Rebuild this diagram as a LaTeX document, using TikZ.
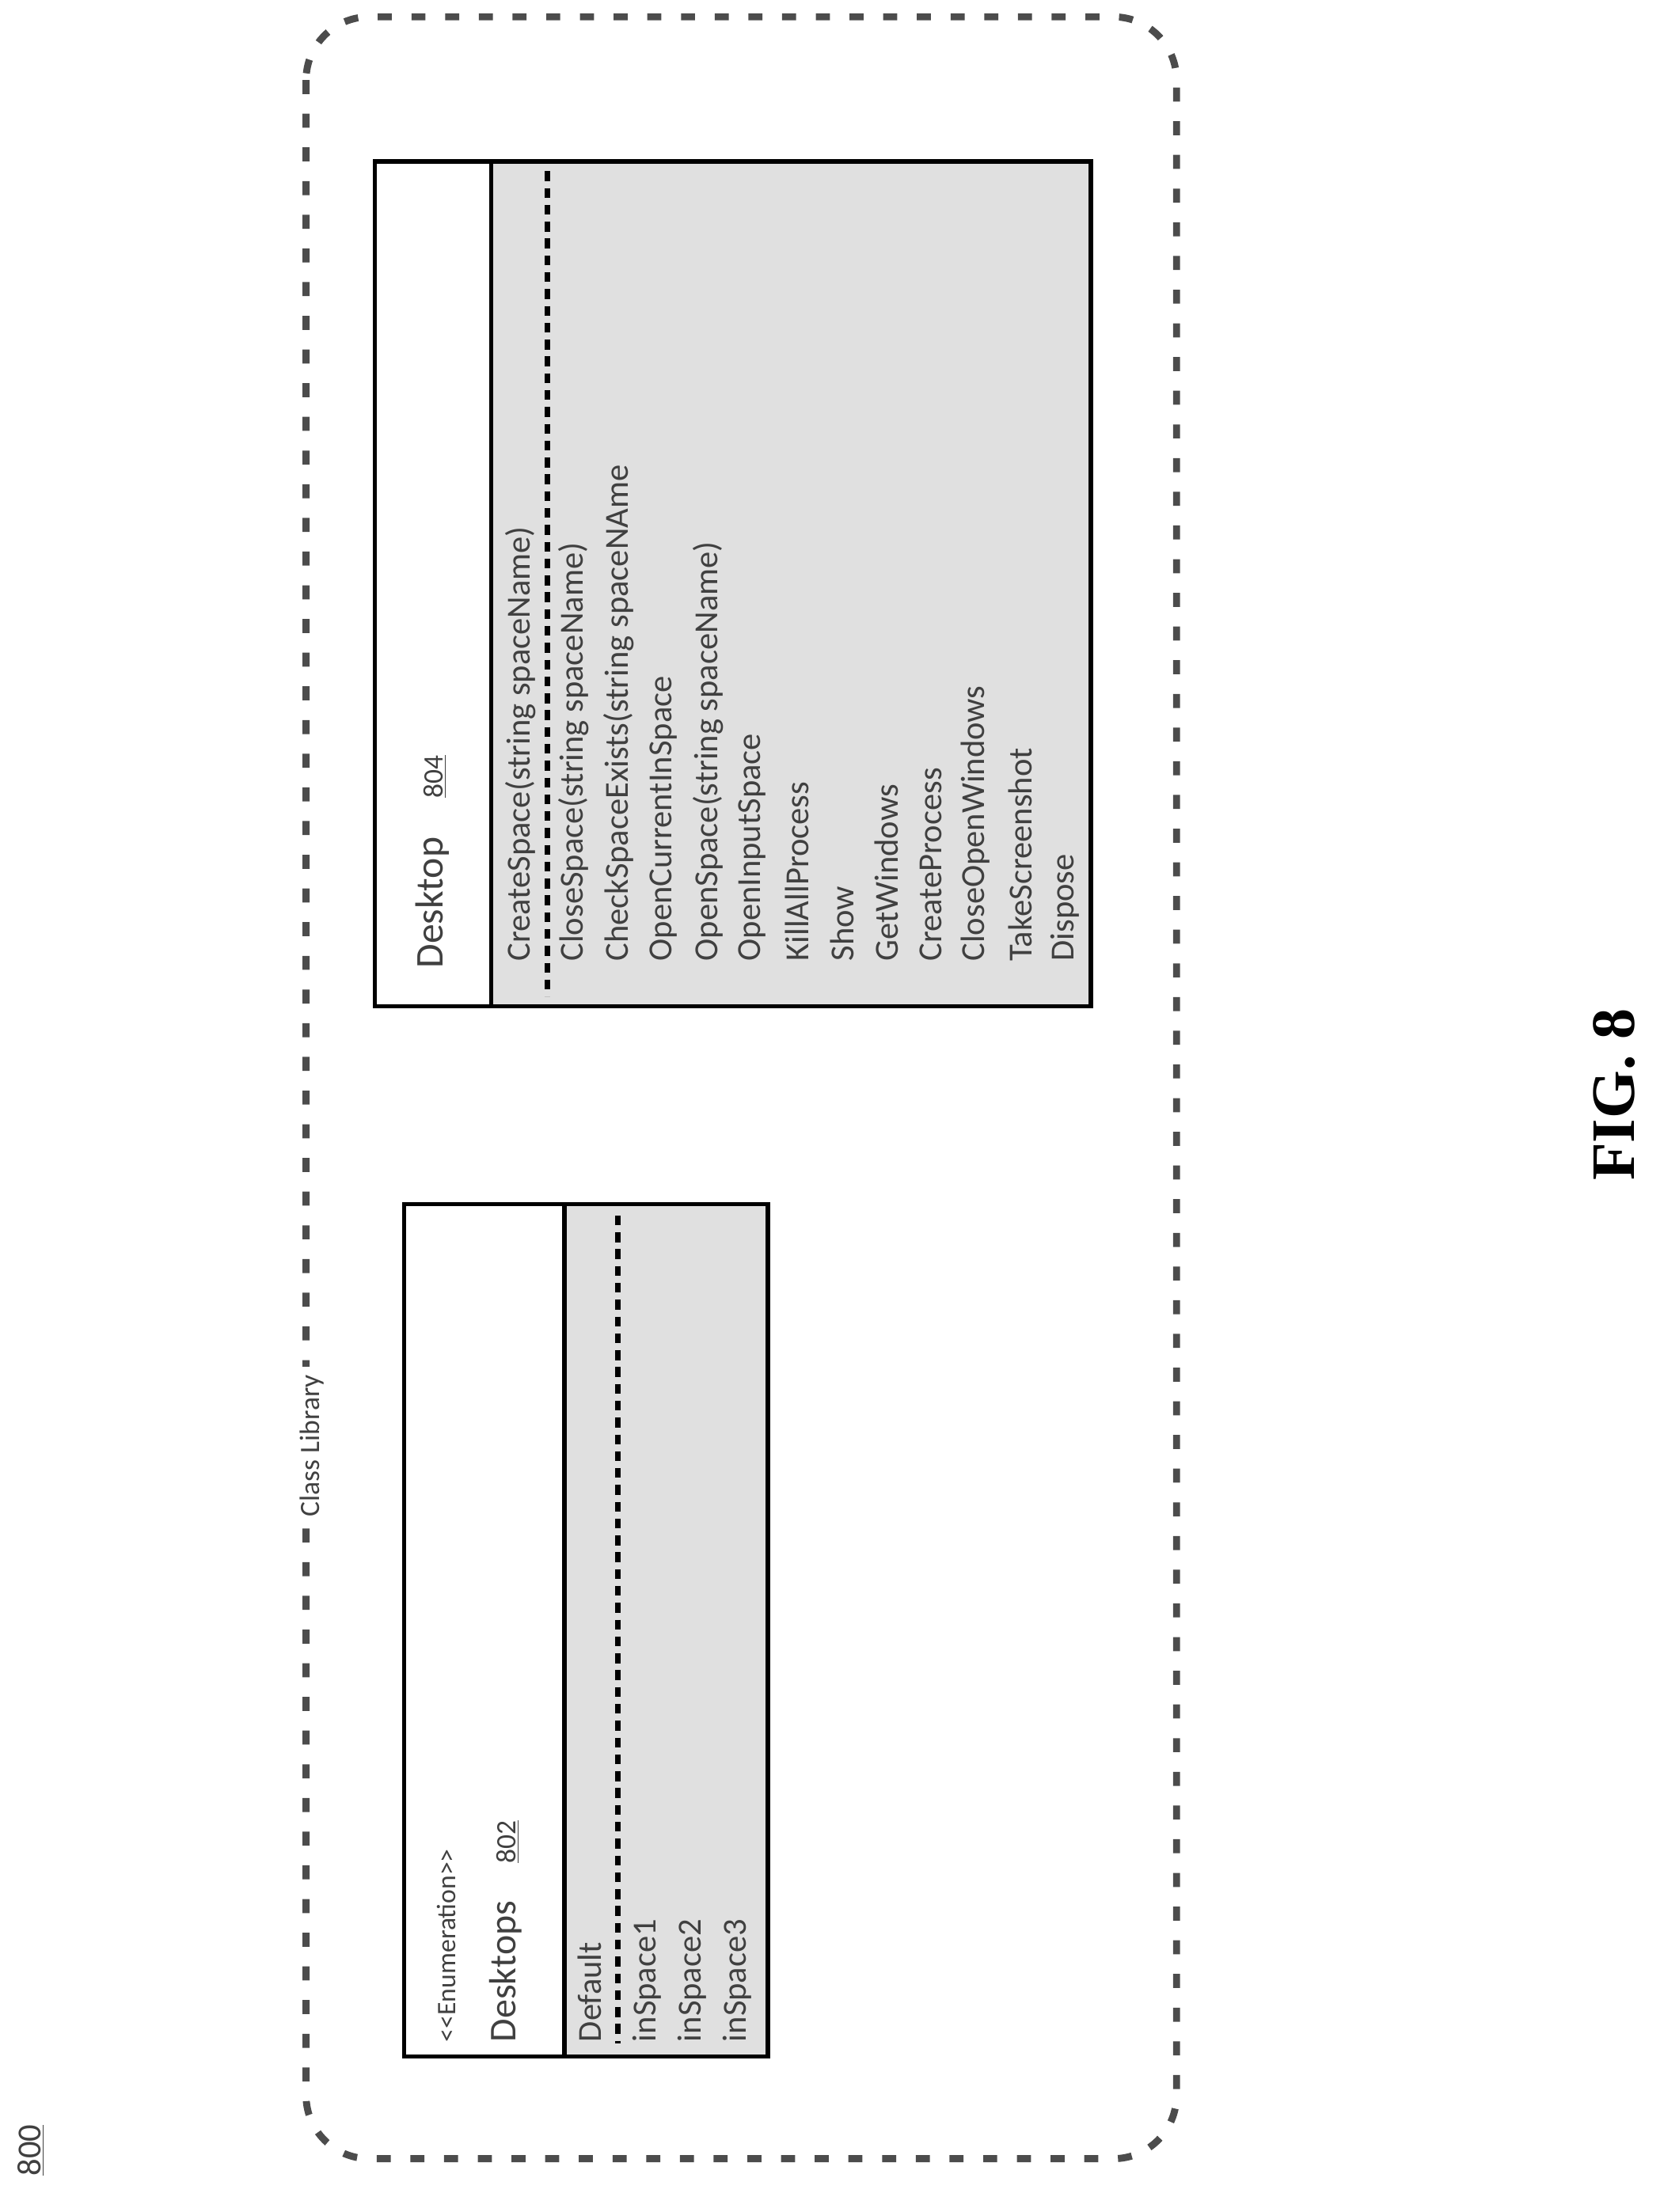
\documentclass[tikz,border=0pt]{standalone}
\usepackage{fontspec}
\setmainfont{Carlito}
\newfontfamily\figfont{Liberation Serif}
\tikzset{
  frame/.style={draw=black!70, line width=5pt, dash pattern=on 10pt off 14pt, rounded corners=45pt},
  classbox/.style={draw, line width=3pt},
  body/.style={fill=black!12},
  sep/.style={draw, line width=4pt, dash pattern=on 7pt off 5pt},
  txt/.style={rotate=90, anchor=west, inner sep=0pt, font=\fontsize{24}{24}\selectfont, text=black!75},
}
\begin{document}
\begin{tikzpicture}[x=1pt,y=-1pt]
    \useasboundingbox (0,0) rectangle (1185,1576);
    % outer frame
    \draw[frame] (218,12) rectangle (838,1538);
    \node[txt, anchor=center] (num) at (22,1532) {\underline{800}};
    \node[txt, anchor=center, fill=white, inner sep=6pt, font=\fontsize{20}{20}\selectfont] (lib) at (222,1030) {Class Library};

    % Desktops enumeration
    \fill[body] (402,858) rectangle (547,1465);
    \draw[classbox] (288,858) rectangle (547,1465);
    \draw[classbox] (402,858) -- (402,1465);
    \draw[sep] (440,866) -- (440,1456);
    \node[txt, font=\fontsize{19}{19}\selectfont] (enum) at (318,1455) {<{}<Enumeration>{}>};
    \node[txt, font=\fontsize{27}{27}\selectfont] (desktops) at (360,1455) {Desktops\quad\fontsize{20}{20}\selectfont\underline{802}};
    \foreach \t/\x [count=\i from 0] in {Default/420,inSpace1/461,inSpace2/493,inSpace3/525}
      \node[txt] (enum\i) at (\x,1455) {\t};

    % Desktop class
    \fill[body] (350,115) rectangle (777,717);
    \draw[classbox] (267,115) rectangle (777,717);
    \draw[classbox] (350,115) -- (350,717);
    \draw[sep] (390,122) -- (390,710);
    \node[txt, font=\fontsize{28}{28}\selectfont] (desktop) at (308,690) {Desktop\quad\fontsize{20}{20}\selectfont\underline{804}};
    \node[txt] (m0) at (371,685) {CreateSpace(string spaceName)};
    \foreach \t [count=\i] in {CloseSpace(string spaceName),CheckSpaceExists(string spaceNAme,OpenCurrentInSpace,OpenSpace(string spaceName),OpenInputSpace,KillAllProcess,Show,GetWindows,CreateProcess,CloseOpenWindows,TakeScreenshot,Dispose}
      \node[txt] (m\i) at (377+31.8*\i,685) {\t};

    \node[rotate=90, font=\figfont\bfseries\fontsize{44}{44}\selectfont] (fig) at (1150,780) {FIG. 8};
\end{tikzpicture}
\end{document}
